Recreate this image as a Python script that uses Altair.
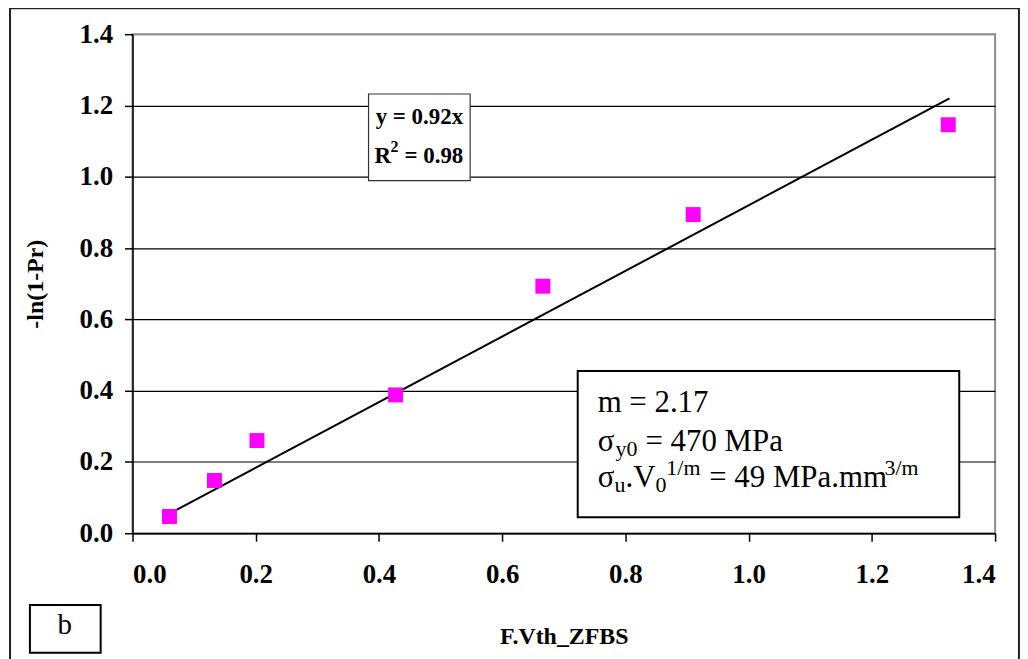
import altair as alt
import pandas as pd

# ---- data ----
x_vals = [0.060, 0.133, 0.202, 0.427, 0.666, 0.910, 1.324]
y_vals = [0.047, 0.148, 0.260, 0.388, 0.693, 0.894, 1.146]
trend_x = [0.060, 1.326]
trend_y = [0.055, 1.220]
x_ticks = [0.0, 0.2, 0.4, 0.6, 0.8, 1.0, 1.2, 1.4]
y_ticks = [0.0, 0.2, 0.4, 0.6, 0.8, 1.0, 1.2, 1.4]

pts = pd.DataFrame({"x": x_vals, "y": y_vals})
trend = pd.DataFrame({"x": trend_x, "y": trend_y})

SERIF = "Liberation Serif"
xs = alt.Scale(domain=[0, 1.4], nice=False, zero=False)
ys = alt.Scale(domain=[0, 1.4], nice=False, zero=False)

one = pd.DataFrame({"k": [0]})


def box(x1, x2, y1, y2, stroke="black", sw=1.0, fill="white"):
    return alt.Chart(one).mark_rect(fill=fill, stroke=stroke, strokeWidth=sw).encode(
        x=alt.datum(x1, scale=xs), x2=alt.datum(x2), y=alt.datum(y1, scale=ys), y2=alt.datum(y2)
    )


def txt(text, x, y, size, dx=0, dy=0, bold=False, align="left"):
    return alt.Chart(pd.DataFrame({"t": [text]})).mark_text(
        font=SERIF, fontSize=size, fontWeight="bold" if bold else "normal",
        align=align, baseline="alphabetic", dx=dx, dy=dy, color="black"
    ).encode(x=alt.datum(x), y=alt.datum(y), text="t:N")


# outer frame
frame = alt.Chart(one).mark_rect(fill=None, stroke="#222222", strokeWidth=2).encode(
    x=alt.datum(-0.1988, scale=xs), x2=alt.datum(1.4387),
    y=alt.datum(1.4725, scale=ys), y2=alt.datum(-0.40)
)

line = alt.Chart(trend).mark_line(color="black", strokeWidth=2).encode(
    x=alt.X("x:Q", scale=xs, axis=alt.Axis(
        title="F.Vth_ZFBS", values=x_ticks, format=".1f", grid=False,
        domainColor="black", domainWidth=1.5, tickColor="black", tickSize=8, tickWidth=1.5,
        labelFont=SERIF, labelFontSize=27, labelFontWeight="bold", labelColor="black",
        labelPadding=20, titleFont=SERIF, titleFontSize=24, titleFontWeight="bold",
        titleColor="black", titlePadding=38)),
    y=alt.Y("y:Q", scale=ys, axis=alt.Axis(
        title="-ln(1-Pr)", values=y_ticks, format=".1f", grid=True,
        gridColor={"condition": {"test": "datum.value > 1.39", "value": "#8c8c8c"}, "value": "black"},
        gridWidth=1.2,
        domainColor="black", domainWidth=1.5, tickColor="black", tickSize=8, tickWidth=1.5,
        labelFont=SERIF, labelFontSize=27, labelFontWeight="bold", labelColor="black",
        labelPadding=12, titleFont=SERIF, titleFontSize=24, titleFontWeight="bold",
        titleColor="black", titlePadding=32)),
)

points = alt.Chart(pts).mark_point(shape="square", filled=True, size=225, color="#FF00FF", opacity=1).encode(
    x=alt.X("x:Q", scale=xs), y=alt.Y("y:Q", scale=ys)
)

# equation box
eq_box = box(0.3831, 0.5480, 1.2322, 0.9891, stroke="#333333", sw=1.2)
eq1 = txt("y = 0.92x", 0.4656, 1.148, 23, bold=True, align="center")
eq2a = txt("R", 0.3929, 1.0394, 23, bold=True)
eq2b = txt("2", 0.3929, 1.0394, 16, dx=16, dy=-11, bold=True)
eq2c = txt("= 0.98", 0.3929, 1.0394, 23, dx=30, bold=True)

# parameter box
p_box = box(0.7226, 1.3418, 0.4554, 0.0447, stroke="black", sw=2)
X0 = 0.7549
L1, L2, L3 = 0.3409, 0.2319, 0.1285
FS, SS = 31, 22
p1 = txt("m = 2.17", X0, L1, FS)
p2a = txt("σ", X0, L2, FS)
p2b = txt("y0", X0, L2, SS, dx=18, dy=5)
p2c = txt("= 470 MPa", X0, L2, FS, dx=48)
p3a = txt("σ", X0, L3, FS)
p3b = txt("u", X0, L3, SS, dx=17, dy=5)
p3c = txt(".V", X0, L3, FS, dx=28)
p3d = txt("0", X0, L3, SS, dx=58, dy=5)
p3e = txt("1/m", X0, L3, SS, dx=69, dy=-12)
p3f = txt("= 49 MPa.mm", X0, L3, FS, dx=112)
p3g = txt("3/m", X0, L3, SS, dx=288, dy=-12)

# panel label
b_box = box(-0.1665, -0.0517, -0.2012, -0.3353, stroke="black", sw=2)
b_txt = txt("b", -0.1099, -0.2822, 29, align="center")

chart = alt.layer(
    frame, line, points, eq_box, eq1, eq2a, eq2b, eq2c,
    p_box, p1, p2a, p2b, p2c, p3a, p3b, p3c, p3d, p3e, p3f, p3g,
    b_box, b_txt
).properties(
    width=866, height=501,
    autosize=alt.AutoSizeParams(type="none"),
    padding={"left": 125, "top": 25, "right": 25, "bottom": 135},
    background="white",
).configure_view(stroke="#8c8c8c", strokeWidth=2)

chart.save("out.html", embed_options={"renderer": "svg", "actions": False})
